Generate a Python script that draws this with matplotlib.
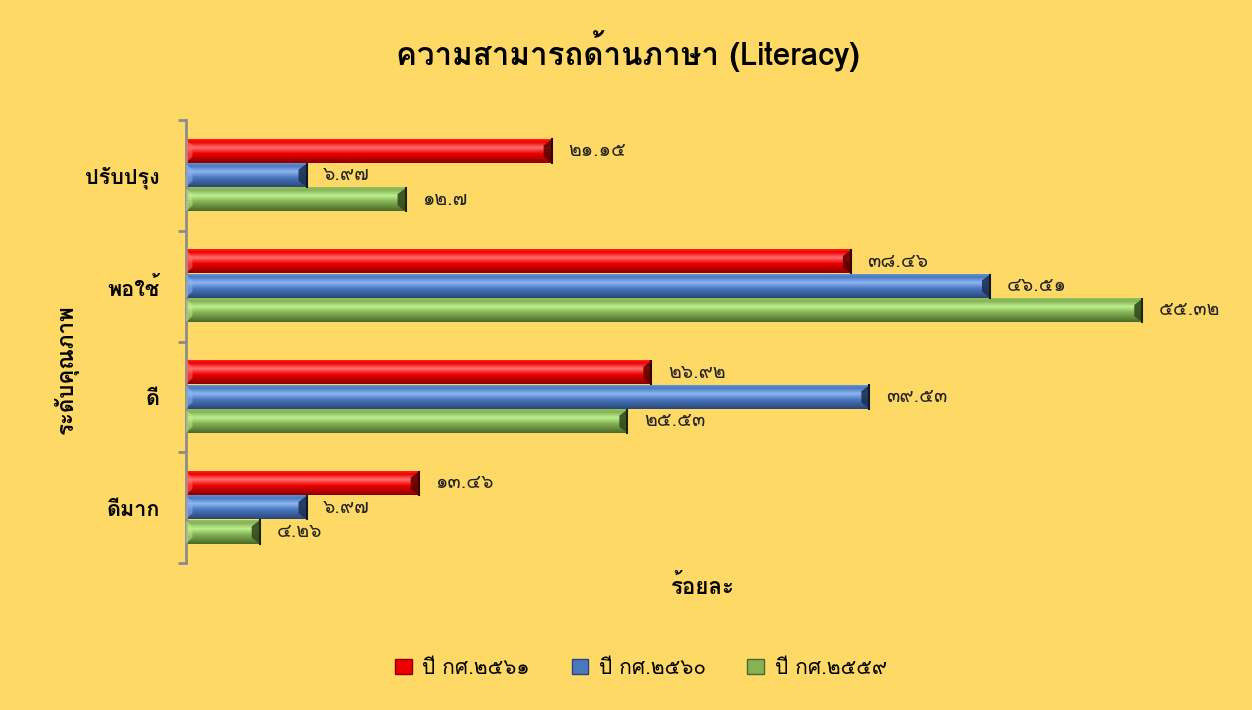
import matplotlib
matplotlib.use("Agg")
import matplotlib.pyplot as plt
import matplotlib.patheffects as pe
import numpy as np
from matplotlib import font_manager as fm
from matplotlib.ft2font import FT2Font
from matplotlib.patches import Patch, Polygon
from matplotlib.colors import to_rgb

# ข้อมูล
categories = ['ปรับปรุง', 'พอใช้', 'ดี', 'ดีมาก']
series_names = ['ปี กศ.๒๕๖๑', 'ปี กศ.๒๕๖๐', 'ปี กศ.๒๕๕๙']
y2561 = [21.15, 38.46, 26.92, 13.46]
y2560 = [6.97, 46.51, 39.53, 6.97]
y2559 = [12.7, 55.32, 25.53, 4.26]
series = [y2561, y2560, y2559]

# สีแต่ละชุด: (ขอบบน, ไฮไลต์, กลาง, ล่าง)
shades = [
    ('#ff2020', '#ff7070', '#ee0000', '#8c0000'),
    ('#5f8fd6', '#8fb6f2', '#4a78c0', '#2b4677'),
    ('#8fc060', '#bdf08f', '#86b356', '#4a6a2a'),
]

# หาฟอนต์ที่มีอักษรไทย (เลือกแบบมีหัว / มีตัวหนา ก่อน)
def has_thai(path):
    try:
        return 0x0E01 in FT2Font(path).get_charmap()
    except Exception:
        return False

thai = {}
for f in fm.fontManager.ttflist:
    if has_thai(f.fname):
        w = f.weight if isinstance(f.weight, int) else 400
        thai.setdefault(f.name, set()).add(w)

preferred = ['Tahoma', 'Leelawadee UI', 'Leelawadee', 'Noto Sans Thai Looped',
             'Noto Serif Thai', 'Loma', 'Garuda', 'Sarabun', 'TH Sarabun New',
             'Norasi', 'Noto Sans Thai', 'Noto Sans Thai UI']


def rank(name):
    r = preferred.index(name) if name in preferred else len(preferred)
    has_bold = any(w >= 600 for w in thai[name])
    return (0 if has_bold else 1, r, name)

thai_font = sorted(thai, key=rank)[0] if thai else None
bold_ok = thai_font is not None and any(w >= 600 for w in thai[thai_font])
plt.rcParams['font.family'] = ([thai_font] if thai_font else []) + ['DejaVu Sans']

# ถ้าไม่มีตัวหนา ใช้เส้นขอบเลียนแบบ
fake_bold = [] if bold_ok else [pe.withStroke(linewidth=0.9, foreground='black')]

thai_digits = str.maketrans('0123456789', '๐๑๒๓๔๕๖๗๘๙')


def thai_num(v):
    return ('%g' % v).translate(thai_digits)


W, H = 1252, 710
fig = plt.figure(figsize=(W / 100, H / 100), dpi=100, facecolor='#FFD966')
ax = fig.add_axes([0.1486, 0.207, 0.977 - 0.1486, 0.831 - 0.207])
ax.set_facecolor('#FFD966')

xmax = 60
bar_h = 0.21
ax_w_px = (0.977 - 0.1486) * W
ax_h_px = (0.831 - 0.207) * H
dx = 8 * xmax / ax_w_px
dy = 6 * 4 / ax_h_px

for k, vals in enumerate(series):
    top, hi, mid, bot = [np.array(to_rgb(c)) for c in shades[k]]
    t = np.linspace(0, 1, 40)
    stops = [0, 0.12, 0.35, 0.6, 1.0]
    cols = [top, mid, hi, mid, bot]
    grad = np.stack([np.interp(t, stops, [c[i] for c in cols]) for i in range(3)], axis=-1)
    grad = grad[:, None, :]
    for i, v in enumerate(vals):
        yc = i + (k - 1) * 0.22
        y0, y1 = yc - bar_h / 2, yc + bar_h / 2
        ax.imshow(grad, extent=[0, v, y1, y0], origin='upper', aspect='auto',
                  interpolation='bilinear', zorder=2)
        # ขอบเอียงด้านขวาและซ้าย
        ax.add_patch(Polygon([(v, y0), (v, y1), (v - dx, y1 - dy), (v - dx, y0 + dy)],
                             closed=True, facecolor=bot * 0.7, edgecolor='none',
                             alpha=0.9, zorder=3))
        ax.add_patch(Polygon([(0, y0), (0, y1), (dx * 0.8, y1 - dy), (dx * 0.8, y0 + dy)],
                             closed=True, facecolor=hi, edgecolor='none',
                             alpha=0.5, zorder=3))
        ax.plot([v, v], [y0, y1], color=bot * 0.35, lw=1.5, zorder=4)
        ax.annotate(thai_num(v), (v, yc), xytext=(12, 0), textcoords='offset points',
                    va='center', ha='left', fontsize=14, color='#222222')

ax.set_xlim(0, xmax)
ax.set_ylim(3.5, -0.5)

ax.set_yticks(range(len(categories)))
ax.set_yticklabels(categories, fontsize=15.5, fontweight='bold', path_effects=fake_bold)
ax.set_yticks(np.arange(-0.5, 4, 1), minor=True)
ax.tick_params(axis='y', which='major', length=0, pad=19)
ax.tick_params(axis='y', which='minor', length=6, width=2, color='#8c8c8c', direction='out')
ax.set_xticks([])

for s in ['top', 'right', 'bottom']:
    ax.spines[s].set_visible(False)
ax.spines['left'].set_color('#8c8c8c')
ax.spines['left'].set_linewidth(2)

fig.text(0.5016, 0.928, 'ความสามารถด้านภาษา (Literacy)', ha='center', va='center',
         fontsize=22.5, fontweight='bold', path_effects=fake_bold)
fig.text(0.0528, 0.48, 'ระดับคุณภาพ', rotation=90, ha='center', va='center',
         fontsize=16, fontweight='bold', path_effects=fake_bold)
fig.text(0.5615, 0.175, 'ร้อยละ', ha='center', va='center', fontsize=16,
         fontweight='bold', path_effects=fake_bold)

handles = [Patch(facecolor=shades[k][2], edgecolor=shades[k][3], linewidth=1)
           for k in range(3)]
fig.legend(handles, series_names, loc='center', bbox_to_anchor=(0.512, 0.059), ncol=3,
           frameon=False, fontsize=15, handlelength=0.8, handleheight=0.8,
           handletextpad=0.5, columnspacing=2.0)

fig.savefig('out.png', dpi=100, facecolor=fig.get_facecolor())
